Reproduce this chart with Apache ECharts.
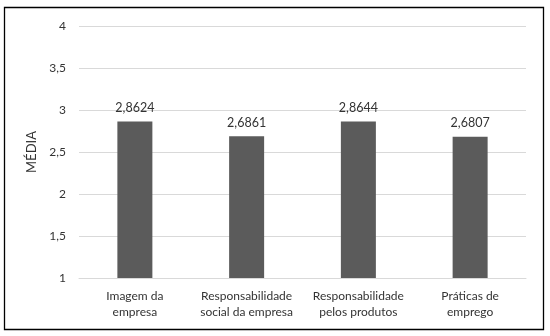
<!DOCTYPE html>
<html>
<head>
<meta charset="utf-8">
<script src="https://cdn.jsdelivr.net/npm/echarts@6/dist/echarts.min.js"></script>
<style>
html,body{margin:0;padding:0;background:#fff;}
#chart{width:550px;height:336px;}
</style>
</head>
<body>
<div id="chart"></div>
<script>
var categories = ["Imagem da\nempresa", "Responsabilidade\nsocial da empresa", "Responsabilidade\npelos produtos", "Práticas de\nemprego"];
var values = [2.8624, 2.6861, 2.8644, 2.6807];
var yTicks = [1, 1.5, 2, 2.5, 3, 3.5, 4];
var axisTitle = "MÉDIA";

function fmt(v){ return String(v).replace('.', ','); }

var chart = echarts.init(document.getElementById('chart'), null, {renderer:'canvas'});
chart.setOption({
  animation: false,
  textStyle: {fontFamily: 'Lato'},
  graphic: [{
    type: 'rect',
    shape: {x: 4.5, y: 7.5, width: 539, height: 322},
    style: {fill: null, stroke: '#000', lineWidth: 1.3},
    silent: true
  }],
  grid: {left: 79, right: 24, top: 26, bottom: 58},
  xAxis: {
    type: 'category',
    data: categories,
    axisLine: {show: true, lineStyle: {color: '#d9d9d9'}},
    axisTick: {show: false},
    axisLabel: {color: '#333333', fontSize: 12, fontFamily: 'Lato', lineHeight: 16, margin: 10, interval: 0}
  },
  yAxis: {
    type: 'value',
    min: yTicks[0],
    max: yTicks[yTicks.length - 1],
    interval: 0.5,
    name: axisTitle,
    nameLocation: 'middle',
    nameRotate: 90,
    nameGap: 36,
    nameTextStyle: {color: '#333333', fontSize: 13, fontFamily: 'Lato'},
    axisLine: {show: false},
    axisTick: {show: false},
    splitLine: {lineStyle: {color: '#d9d9d9', width: 1}},
    axisLabel: {color: '#333333', fontSize: 12, fontFamily: 'Lato', margin: 13, formatter: fmt}
  },
  series: [{
    type: 'bar',
    data: values,
    barWidth: 35,
    itemStyle: {color: '#5b5b5b'},
    label: {
      show: true,
      position: 'top',
      distance: 7,
      color: '#333333',
      fontSize: 12.5,
      fontFamily: 'Lato',
      formatter: function(p){ return fmt(p.value); }
    }
  }]
});
</script>
</body>
</html>
